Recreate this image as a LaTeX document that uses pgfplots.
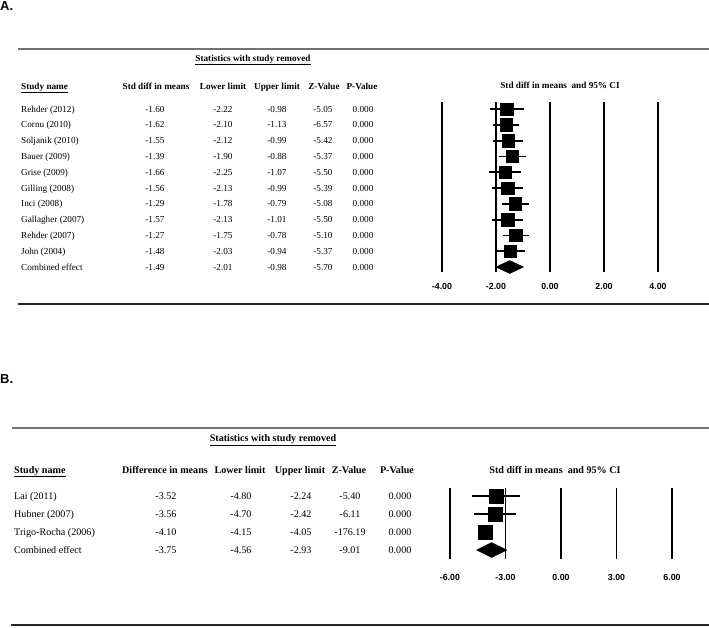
\documentclass[border=0pt]{standalone}
\usepackage{fontspec}
\setmainfont{Liberation Serif}
\newfontfamily\arialfont{Liberation Sans}
\usepackage{pgfplots}
\usepackage{pgfplotstable}
\pgfplotsset{compat=1.18}

\newcommand\tA{\fontsize{9.2}{11}\selectfont}
\newcommand\tB{\fontsize{10.1}{12}\selectfont}
\newcommand\tickfont{\fontsize{8.8}{10}\selectfont\arialfont\bfseries}

% Panel A: std diff in means with 95% CI (study removed), row = -index
\pgfplotstableread{
row est lo hi
0 -1.60 -2.22 -0.98
-1 -1.62 -2.10 -1.13
-2 -1.55 -2.12 -0.99
-3 -1.39 -1.90 -0.88
-4 -1.66 -2.25 -1.07
-5 -1.56 -2.13 -0.99
-6 -1.29 -1.78 -0.79
-7 -1.57 -2.13 -1.01
-8 -1.27 -1.75 -0.78
-9 -1.48 -2.03 -0.94
}\dataA

% Panel B
\pgfplotstableread{
row est lo hi
0 -3.52 -4.80 -2.24
-1 -3.56 -4.70 -2.42
-2 -4.10 -4.15 -4.05
}\dataB

\begin{document}
\begin{tikzpicture}
\useasboundingbox (0pt,0pt) rectangle (709pt,-627pt);

% ---------------- Panel A ----------------
\node[anchor=base west, inner sep=0, font=\fontsize{13}{14}\selectfont\arialfont\bfseries] at (0pt,-10.5pt) {A.};
\draw[color=black!55, line width=1.8pt] (18pt,-49pt) -- (709pt,-49pt);
\draw[color=black!85, line width=1.5pt] (18pt,-304pt) -- (709pt,-304pt);

\node[anchor=base, inner sep=0, font=\tA\bfseries] at (253pt,-61pt) {\underline{Statistics with study removed}};
\begin{scope}[every node/.style={anchor=base, inner sep=0, font=\tA\bfseries}]
\node[anchor=base west] at (21pt,-89pt) {\underline{Study name}};
\node at (156pt,-89pt) {Std diff in means};
\node at (223pt,-89pt) {Lower limit};
\node at (277pt,-89pt) {Upper limit};
\node at (324pt,-89pt) {Z-Value};
\node at (362pt,-89pt) {P-Value};
\node at (560pt,-88pt) {Std diff in means\ \ and 95\% CI};
\end{scope}

\foreach \nm/\es/\lo/\hi/\z [count=\i from 0] in {
Rehder (2012)/-1.60/-2.22/-0.98/-5.05,
Cornu (2010)/-1.62/-2.10/-1.13/-6.57,
Soljanik (2010)/-1.55/-2.12/-0.99/-5.42,
Bauer (2009)/-1.39/-1.90/-0.88/-5.37,
Grise (2009)/-1.66/-2.25/-1.07/-5.50,
Gilling (2008)/-1.56/-2.13/-0.99/-5.39,
Inci (2008)/-1.29/-1.78/-0.79/-5.08,
Gallagher (2007)/-1.57/-2.13/-1.01/-5.50,
Rehder (2007)/-1.27/-1.75/-0.78/-5.10,
John (2004)/-1.48/-2.03/-0.94/-5.37,
Combined effect/-1.49/-2.01/-0.98/-5.70}{
  \pgfmathsetmacro\yy{-(109+15.8*\i)-3.0}
  \node[anchor=base west, inner sep=0, font=\tA] at (21pt,\yy pt) {\nm};
  \node[anchor=base, inner sep=0, font=\tA] at (155pt,\yy pt) {\es};
  \node[anchor=base, inner sep=0, font=\tA] at (223pt,\yy pt) {\lo};
  \node[anchor=base, inner sep=0, font=\tA] at (277pt,\yy pt) {\hi};
  \node[anchor=base, inner sep=0, font=\tA] at (323pt,\yy pt) {\z};
  \node[anchor=base, inner sep=0, font=\tA] at (363pt,\yy pt) {0.000};
}

\begin{axis}[
  at={(442pt,-102pt)}, anchor=north west, scale only axis,
  width=216pt, height=170pt,
  xmin=-4, xmax=4, ymin=-10.316, ymax=0.443,
  axis line style={draw=none}, clip=false,
  xtick={-4,-2,0,2,4},
  xticklabels={-4.00,-2.00,0.00,2.00,4.00},
  ytick=\empty, major tick length=0pt,
  xmajorgrids, major grid style={black, line width=1.9pt},
  xticklabel style={anchor=center, yshift=-14pt, font=\tickfont},
]
\addplot[only marks, mark=square*, mark size=6.2pt, black,
  error bars/.cd, x dir=both, x explicit, error mark=none,
  error bar style={line width=1.8pt, black}]
  table[x=est, y=row,
        x error minus expr={\thisrow{est}-\thisrow{lo}},
        x error plus expr={\thisrow{hi}-\thisrow{est}}] {\dataA};
\addplot[fill=black, draw=black] coordinates {(-2.01,-10) (-1.49,-9.59) (-0.98,-10) (-1.49,-10.41)} -- cycle;
\end{axis}

% ---------------- Panel B ----------------
\node[anchor=base west, inner sep=0, font=\fontsize{13}{14}\selectfont\arialfont\bfseries] at (0pt,-383.5pt) {B.};
\draw[color=black!55, line width=1.8pt] (12pt,-428pt) -- (709pt,-428pt);
\draw[color=black!85, line width=1.5pt] (11pt,-625pt) -- (709pt,-625pt);

\node[anchor=base, inner sep=0, font=\tB\bfseries] at (273pt,-441.3pt) {\underline{Statistics with study removed}};
\begin{scope}[every node/.style={anchor=base, inner sep=0, font=\tB\bfseries}]
\node[anchor=base west] at (14pt,-473pt) {\underline{Study name}};
\node at (165pt,-473pt) {Difference in means};
\node at (240pt,-473pt) {Lower limit};
\node at (300pt,-473pt) {Upper limit};
\node at (349pt,-473pt) {Z-Value};
\node at (397pt,-473pt) {P-Value};
\node at (555pt,-473pt) {Std diff in means\ \ and 95\% CI};
\end{scope}

\foreach \nm/\es/\lo/\hi/\z [count=\i from 0] in {
Lai (2011)/-3.52/-4.80/-2.24/-5.40,
Hubner (2007)/-3.56/-4.70/-2.42/-6.11,
Trigo-Rocha (2006)/-4.10/-4.15/-4.05/-176.19,
Combined effect/-3.75/-4.56/-2.93/-9.01}{
  \pgfmathsetmacro\yy{-(496+18*\i)-3.3}
  \node[anchor=base west, inner sep=0, font=\tB] at (14pt,\yy pt) {\nm};
  \node[anchor=base, inner sep=0, font=\tB] at (166pt,\yy pt) {\es};
  \node[anchor=base, inner sep=0, font=\tB] at (241pt,\yy pt) {\lo};
  \node[anchor=base, inner sep=0, font=\tB] at (301pt,\yy pt) {\hi};
  \node[anchor=base, inner sep=0, font=\tB] at (350pt,\yy pt) {\z};
  \node[anchor=base, inner sep=0, font=\tB] at (400pt,\yy pt) {0.000};
}

\begin{axis}[
  at={(450pt,-488pt)}, anchor=north west, scale only axis,
  width=222pt, height=71pt,
  xmin=-6, xmax=6, ymin=-3.5, ymax=0.444,
  axis line style={draw=none}, clip=false,
  xtick={-6,-3,0,3,6},
  xticklabels={-6.00,-3.00,0.00,3.00,6.00},
  ytick=\empty, major tick length=0pt,
  xmajorgrids, major grid style={black, line width=1.9pt},
  xticklabel style={anchor=center, yshift=-18pt, font=\tickfont},
]
\addplot[only marks, mark=square*, mark size=7pt, black,
  error bars/.cd, x dir=both, x explicit, error mark=none,
  error bar style={line width=1.8pt, black}]
  table[x=est, y=row,
        x error minus expr={\thisrow{est}-\thisrow{lo}},
        x error plus expr={\thisrow{hi}-\thisrow{est}}] {\dataB};
\addplot[fill=black, draw=black] coordinates {(-4.56,-3) (-3.75,-2.58) (-2.93,-3) (-3.75,-3.42)} -- cycle;
\end{axis}
\end{tikzpicture}
\end{document}
